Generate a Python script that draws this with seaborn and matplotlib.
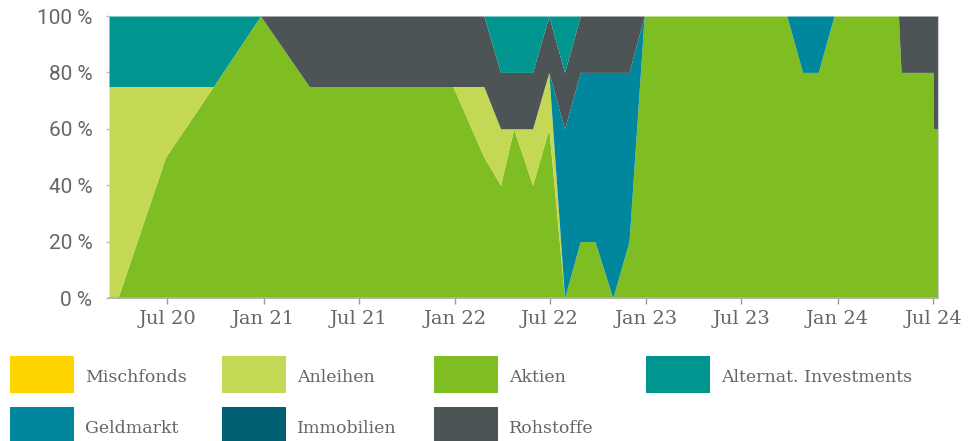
import matplotlib
matplotlib.use("Agg")
import matplotlib.pyplot as plt
import matplotlib.dates as mdates
from matplotlib.patches import Rectangle
import seaborn as sns
import pandas as pd

# allocation per rebalancing date (percent of portfolio)
dates = ["2020-03-12", "2020-03-29", "2020-06-28", "2020-09-27", "2020-12-26",
         "2021-03-29", "2021-12-28", "2022-02-25", "2022-03-29", "2022-04-23",
         "2022-05-29", "2022-06-29", "2022-07-29", "2022-08-28", "2022-09-25",
         "2022-10-29", "2022-11-29", "2022-12-28", "2023-09-26", "2023-10-26",
         "2023-11-25", "2023-12-25", "2024-04-26", "2024-05-01", "2024-07-01",
         "2024-07-02", "2024-07-11"]
aktien = [0, 0, 50, 75, 100, 75, 75, 50, 40, 60, 40, 60, 0, 20, 20, 0, 20, 100,
          100, 80, 80, 100, 100, 80, 80, 60, 60]
anleihen = [75, 75, 25, 0, 0, 0, 0, 25, 20, 0, 20, 20, 0, 0, 0, 0, 0, 0,
            0, 0, 0, 0, 0, 0, 0, 0, 0]
geldmarkt = [0, 0, 0, 0, 0, 0, 0, 0, 0, 0, 0, 0, 60, 60, 60, 80, 60, 0,
             0, 20, 20, 0, 0, 0, 0, 0, 0]
immobilien = [0, 0, 0, 0, 0, 0, 0, 0, 0, 0, 0, 0, 0, 0, 0, 0, 0, 0,
              0, 0, 0, 0, 0, 0, 0, 0, 0]
mischfonds = [0, 0, 0, 0, 0, 0, 0, 0, 0, 0, 0, 0, 0, 0, 0, 0, 0, 0,
              0, 0, 0, 0, 0, 0, 0, 0, 0]
rohstoffe = [0, 0, 0, 0, 0, 25, 25, 25, 20, 20, 20, 20, 20, 20, 20, 20, 20, 0,
             0, 0, 0, 0, 0, 20, 20, 40, 40]
alternat = [25, 25, 25, 25, 0, 0, 0, 0, 20, 20, 20, 0, 20, 0, 0, 0, 0, 0,
            0, 0, 0, 0, 0, 0, 0, 0, 0]

legend_labels = ["Mischfonds", "Anleihen", "Aktien", "Alternat. Investments",
                 "Geldmarkt", "Immobilien", "Rohstoffe"]
colors = {
    "Mischfonds": "#FFD500",
    "Anleihen": "#C5D856",
    "Aktien": "#7EBE22",
    "Alternat. Investments": "#00968F",
    "Geldmarkt": "#00879E",
    "Immobilien": "#006071",
    "Rohstoffe": "#4D5456",
}

df = pd.DataFrame({
    "date": pd.to_datetime(dates),
    "Aktien": aktien,
    "Anleihen": anleihen,
    "Geldmarkt": geldmarkt,
    "Immobilien": immobilien,
    "Mischfonds": mischfonds,
    "Rohstoffe": rohstoffe,
    "Alternat. Investments": alternat,
})
stack_order = ["Aktien", "Anleihen", "Geldmarkt", "Immobilien", "Mischfonds",
               "Rohstoffe", "Alternat. Investments"]

sns.set_theme(style="white")
plt.rcParams["font.family"] = ["Roboto", "DejaVu Sans"]

W, H = 978, 441
fig = plt.figure(figsize=(W / 100, H / 100), dpi=100)
ax = fig.add_axes([109 / W, 1 - 298 / H, (938.3 - 109) / W, (298 - 16) / H])

ax.stackplot(df["date"], df[stack_order].T.values,
             colors=[colors[c] for c in stack_order], linewidth=0)

ax.set_xlim(df["date"].iloc[0], df["date"].iloc[-1])
ax.set_ylim(0, 100)
ax.set_yticks(range(0, 101, 20))
ax.set_yticklabels([f"{v} %" for v in range(0, 101, 20)])
ax.xaxis.set_major_locator(mdates.MonthLocator(bymonth=[1, 7]))
ax.xaxis.set_major_formatter(mdates.DateFormatter("%b %y"))

for side in ["top", "left"]:
    ax.spines[side].set_visible(False)
ax.spines["bottom"].set_color("#b0b0b0")
ax.spines["bottom"].set_linewidth(1.2)
ax.spines["right"].set_color("#d0d0d0")
ax.spines["right"].set_linewidth(0.8)
ax.yaxis.set_ticks_position("left")
ax.xaxis.set_ticks_position("bottom")
ax.tick_params(axis="x", direction="out", length=4, width=1, color="#999999",
               labelsize=14, labelcolor="#666666", pad=5)
ax.tick_params(axis="y", direction="out", length=2, width=1, color="#bbbbbb",
               labelsize=15, labelcolor="#666666", pad=10)
for lbl in ax.get_xticklabels():
    lbl.set_family(["DejaVu Serif"])
ax.grid(False)

# legend laid out in a fixed grid like the original
sq_w, sq_h = 64, 37
for i, lab in enumerate(legend_labels):
    row, col = divmod(i, 4)
    x0 = 10 + col * 212
    y0 = 356 + row * 50.7
    fig.add_artist(Rectangle((x0 / W, 1 - (y0 + sq_h) / H), sq_w / W, sq_h / H,
                             transform=fig.transFigure, facecolor=colors[lab],
                             edgecolor="none"))
    fig.text((x0 + 75) / W, 1 - (y0 + 21.5) / H, lab, ha="left", va="center",
             fontsize=12.5, color="#666666", family=["DejaVu Serif"])

fig.savefig("out.png", dpi=100)
